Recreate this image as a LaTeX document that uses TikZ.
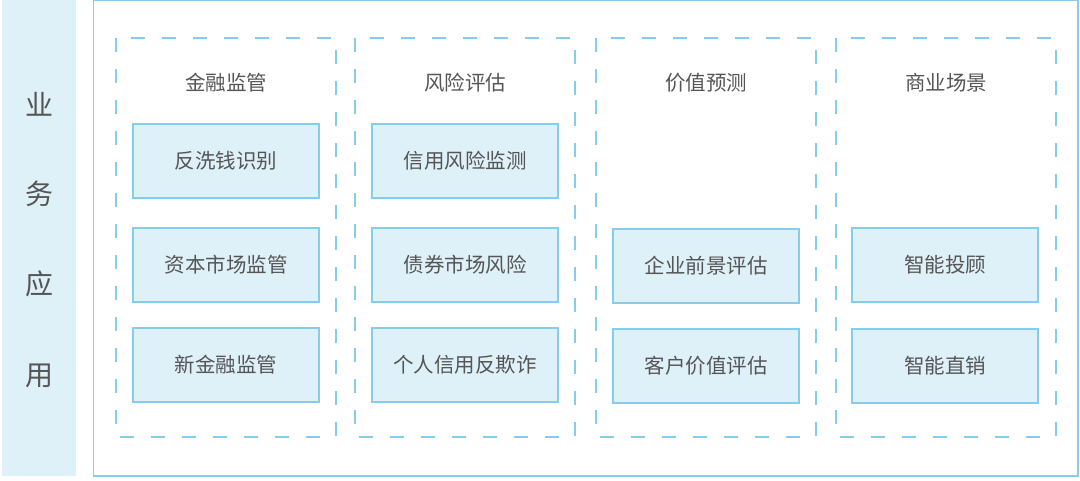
\documentclass[tikz,border=0pt]{standalone}
\usepackage{fontspec}
\setmainfont{Noto Sans CJK SC}
\definecolor{lb}{HTML}{DEF0F8}
\definecolor{ed}{HTML}{86CDEB}
\definecolor{tx}{HTML}{555555}
\begin{document}
\begin{tikzpicture}[x=1pt,y=-1pt,
  col/.style={draw=ed,line width=1.3pt,dash pattern=on 14pt off 17pt},
  itembox/.style={draw=ed,fill=lb,line width=1.2pt,minimum width=186pt,minimum height=74pt,text=tx,font=\fontsize{20.5}{24}\selectfont,inner sep=0pt},
  head/.style={text=tx,font=\fontsize{20.5}{24}\selectfont},
  side/.style={text=tx,font=\fontsize{28}{30}\selectfont}]
\useasboundingbox (0,0) rectangle (1080,480);
\fill[lb] (2,0) rectangle (76,476);
\draw[ed,line width=1.2pt] (93.5,0) rectangle (1078,476);
\node[side] (s1) at (39,104) {业};
\node[side] (s2) at (39,194) {务};
\node[side] (s3) at (39,284) {应};
\node[side] (s4) at (39,376) {用};
\foreach \x/\n in {116/c1,355/c2,596/c3,836/c4}{
  \draw[col] (\x,38) rectangle ++(220,399);
}
\node[head] (h1) at (226,83) {金融监管};
\node[head] (h2) at (465,83) {风险评估};
\node[head] (h3) at (706,83) {价值预测};
\node[head] (h4) at (946,83) {商业场景};
\node[itembox] (a1) at (226,161) {\raisebox{-2pt}{反洗钱识别}};
\node[itembox] (a2) at (226,265) {\raisebox{-2pt}{资本市场监管}};
\node[itembox] (a3) at (226,365) {\raisebox{-2pt}{新金融监管}};
\node[itembox] (b1) at (465,161) {\raisebox{-2pt}{信用风险监测}};
\node[itembox] (b2) at (465,265) {\raisebox{-2pt}{债券市场风险}};
\node[itembox] (b3) at (465,365) {\raisebox{-2pt}{个人信用反欺诈}};
\node[itembox] (c2) at (706,266) {\raisebox{-2pt}{企业前景评估}};
\node[itembox] (c3) at (706,366) {\raisebox{-2pt}{客户价值评估}};
\node[itembox] (d2) at (945,265) {\raisebox{-2pt}{智能投顾}};
\node[itembox] (d3) at (945,366) {\raisebox{-2pt}{智能直销}};
\end{tikzpicture}
\end{document}
